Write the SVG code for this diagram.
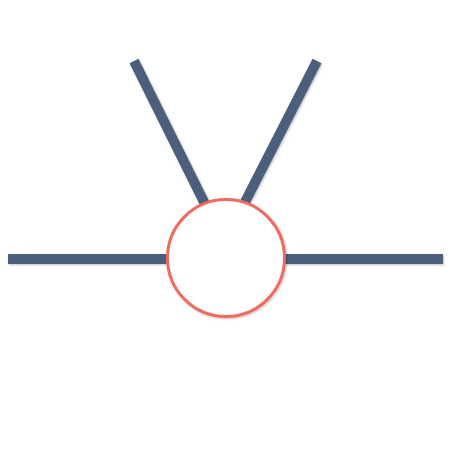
<svg xmlns="http://www.w3.org/2000/svg" width="450" height="450" viewBox="0 0 450 450">
  <defs>
    <filter id="shadow" filterUnits="userSpaceOnUse" x="0" y="0" width="450" height="450">
      <feDropShadow dx="1" dy="1" stdDeviation="0.8" flood-color="#000" flood-opacity="0.25"/>
    </filter>
  </defs>
  <style>
    .bar { stroke: #4b5f7b; stroke-width: 10; stroke-linecap: butt; fill: none; filter: url(#shadow); }
    .hub { fill: #ffffff; stroke: #ef6a5e; stroke-width: 3; filter: url(#shadow); }
  </style>
  <rect width="450" height="450" fill="#ffffff"/>
  <g id="connectors">
    <line class="bar" x1="8" y1="259" x2="170" y2="259"/>
    <line class="bar" x1="282" y1="259" x2="443" y2="259"/>
    <line class="bar" x1="134" y1="61" x2="205" y2="204"/>
    <line class="bar" x1="317" y1="61" x2="244" y2="204"/>
  </g>
  <g id="hub">
    <circle class="hub" cx="226" cy="258" r="58.5"/>
  </g>
</svg>
